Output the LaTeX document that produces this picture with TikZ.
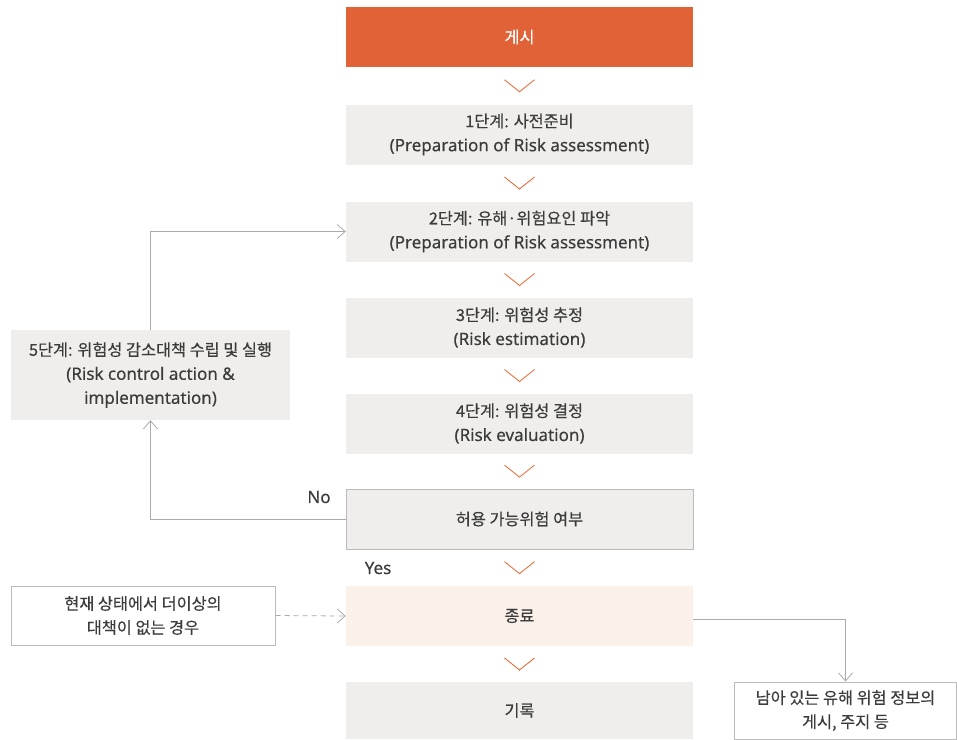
\documentclass[tikz,border=0pt]{standalone}
\usepackage{fontspec}
\setmainfont{Noto Sans CJK KR}[FakeBold=0.4]
\newfontfamily\latfam{Noto Sans}[FakeBold=0.3]
\newcommand\latf{\latfam\fontsize{17}{24}\selectfont}
\usetikzlibrary{arrows.meta,calc}
\definecolor{orangebox}{HTML}{E06236}
\definecolor{chevc}{HTML}{E8703F}
\definecolor{boxgray}{HTML}{EFEEEC}
\definecolor{endfill}{HTML}{FCF0EA}
\definecolor{txt}{HTML}{3C3C3C}
\definecolor{linec}{HTML}{ABABAB}
\definecolor{borderc}{HTML}{BBBBBB}
\newcommand\chv[2]{\draw[chev] ($(#1.south)!0.5!(#2.north)+(-15,-6)$) -- ++(15,12) -- ++(15,-12);}
\begin{document}
\begin{tikzpicture}[x=1pt,y=-1pt,
  base/.style={inner sep=0pt, align=center, text=txt, font=\fontsize{16.3}{24}\selectfont},
  box/.style={base, minimum width=347pt, minimum height=60pt},
  gbox/.style={box, fill=boxgray},
  chev/.style={draw=chevc, line width=0.9pt},
  conn/.style={draw=linec, line width=0.8pt, -{Straight Barb[length=8pt,width=14pt,line width=0.8pt]}},
  lbl/.style={text=txt, font=\latf, inner sep=0pt}]
\useasboundingbox (0,0) rectangle (957,739);
\node[box, fill=orangebox, text=white] (g) at (519.5,37) {게시};
\node[gbox] (s1) at (519.5,134.5) {1단계: 사전준비\\{\latf (Preparation of Risk assessment)}};
\node[gbox] (s2) at (519.5,231.5) {2단계: 유해·위험요인 파악\\{\latf (Preparation of Risk assessment)}};
\node[gbox] (s3) at (519.5,327.5) {3단계: 위험성 추정\\{\latf (Risk estimation)}};
\node[gbox] (s4) at (519.5,423.5) {4단계: 위험성 결정\\{\latf (Risk evaluation)}};
\node[gbox, draw=borderc, line width=1pt] (dec) at (519.5,519) {허용 가능위험 여부};
\node[box, fill=endfill] (end) at (519.5,616) {종료};
\node[box, fill=boxgray, minimum height=57pt] (rec) at (519.5,710.5) {기록};
\node[base, fill=boxgray, minimum width=279pt, minimum height=90pt] (s5) at (150.5,375) {5단계: 위험성 감소대책 수립 및 실행\\{\latf (Risk control action \&}\\{\latf implementation)}};
\node[base, draw=borderc, fill=white, line width=1pt, minimum width=264pt, minimum height=59pt] (cur) at (143,615.5) {현재 상태에서 더이상의\\대책이 없는 경우};
\node[base, draw=borderc, fill=white, line width=1pt, minimum width=222pt, minimum height=57pt] (rem) at (845.5,710.5) {남아 있는 유해 위험 정보의\\게시, 주지 등};
\chv{g}{s1}
\chv{s1}{s2}
\chv{s2}{s3}
\chv{s3}{s4}
\chv{s4}{dec}
\chv{dec}{end}
\chv{end}{rec}
\draw[conn] (s5.north) |- (s2.west);
\draw[conn] (dec.west) -| (s5.south);
\draw[conn, dashed, dash pattern=on 5pt off 4pt] (cur.east) -- (end.west);
\draw[conn] ([yshift=-3pt]end.east) -| (rem.north);
\node[lbl] (no) at (319,497) {No};
\node[lbl] (yes) at (378,568) {Yes};
\end{tikzpicture}
\end{document}
